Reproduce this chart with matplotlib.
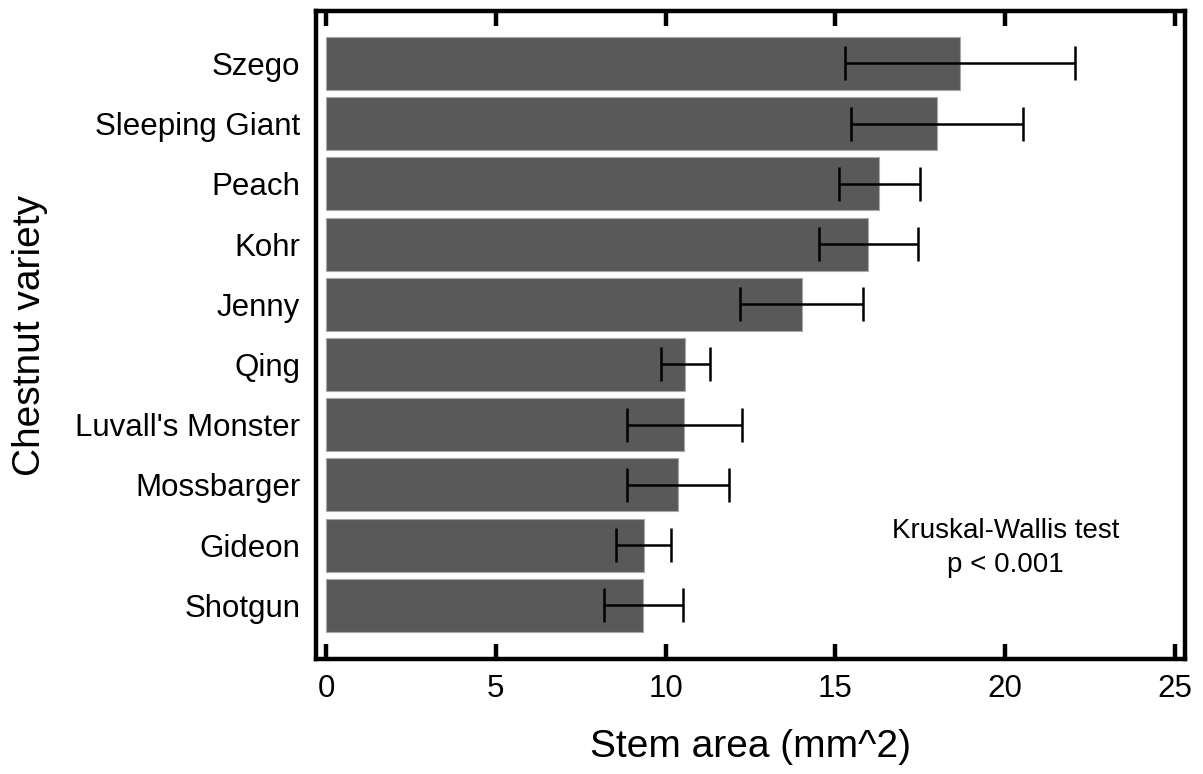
import numpy as np
import matplotlib
matplotlib.use("Agg")
import matplotlib.pyplot as plt

plt.rcParams['font.family'] = ['Liberation Sans', 'DejaVu Sans']

# -----------------------------------------------------------------
# data (top to bottom)

varieties = ["Szego", "Sleeping Giant", "Peach", "Kohr", "Jenny", "Qing",
             "Luvall's Monster", "Mossbarger", "Gideon", "Shotgun"]
stem_area = [18.67, 17.99, 16.29, 15.97, 14.01, 10.58, 10.55, 10.36, 9.36, 9.34]
stem_err = [3.38, 2.53, 1.20, 1.47, 1.81, 0.73, 1.70, 1.50, 0.81, 1.17]

x_ticks = [0, 5, 10, 15, 20, 25]

# -----------------------------------------------------------------

# reverse so that the first variety ends up at the top
names = varieties[::-1]
means = stem_area[::-1]
errs = stem_err[::-1]
ypos = np.arange(len(names))

fig = plt.figure(figsize=(12.03, 7.74), dpi=100)
ax = fig.add_axes([0.2623, 0.1486, 0.7227, 0.8372])

ax.barh(ypos, means, height=0.88, color="#595959", edgecolor="#a8a8a8", linewidth=0.8, zorder=2)
ax.errorbar(means, ypos, xerr=errs, fmt="none", ecolor="black", elinewidth=1.8,
            capsize=12, capthick=1.8, zorder=3)

ax.set_xlim(-0.31, 25.29)
ax.set_ylim(-0.89, 9.87)

ax.set_xticks(x_ticks)
ax.set_yticks(ypos)
ax.set_yticklabels(names)

ax.tick_params(axis="x", direction="in", length=11, width=3.2, labelsize=22.5, pad=11,
               top=True, bottom=True)
ax.tick_params(axis="y", length=0, labelsize=22.5, pad=11)

for side in ax.spines.values():
    side.set_linewidth(3.2)
    side.set_color("black")

ax.set_xlabel("Stem area (mm^2)", fontsize=28)
ax.xaxis.set_label_coords(0.5, -0.108)
ax.xaxis.label.set_va("top")
ax.set_ylabel("Chestnut variety", fontsize=28)
ax.yaxis.set_label_coords(-0.308, 0.5)

ax.text(20.0, 0.95, "Kruskal-Wallis test\np < 0.001", ha="center", va="center",
        fontsize=20, linespacing=1.4)

fig.savefig("out.png", dpi=100)
